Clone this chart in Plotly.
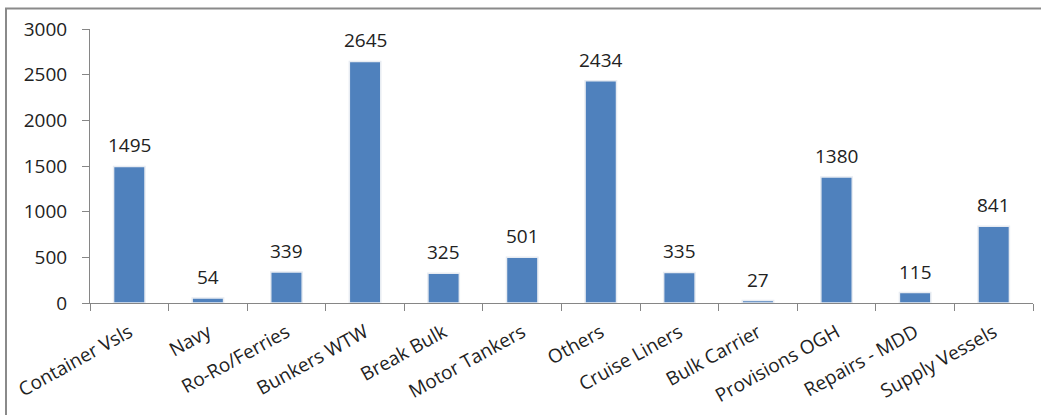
import plotly.graph_objects as go

categories = ["Container Vsls", "Navy", "Ro-Ro/Ferries", "Bunkers WTW", "Break Bulk",
              "Motor Tankers", "Others", "Cruise Liners", "Bulk Carrier", "Provisions OGH",
              "Repairs - MDD", "Supply Vessels"]
values = [1495, 54, 339, 2645, 325, 501, 2434, 335, 27, 1380, 115, 841]
y_ticks = [0, 500, 1000, 1500, 2000, 2500, 3000]

W, H = 1041, 415
L, R, T, B = 90, 8, 29, 112
pw, ph = W - L - R, H - T - B

FONT = "Open Sans"
FS = 19

fig = go.Figure()
fig.add_trace(go.Bar(
    x=categories, y=values,
    marker=dict(color="#4F81BD", line=dict(color="#E8ECF2", width=1.5)),
    width=0.4,
    hoverinfo="x+y",
))

for c, v in zip(categories, values):
    fig.add_annotation(x=c, y=v, text=str(v), showarrow=False, yanchor="bottom",
                       yshift=6, font=dict(family=FONT, size=FS, color="#222222"))

def px_x(px):
    return (px - L) / pw

def px_y(py):
    return (H - B - py) / ph

fig.add_shape(type="rect", xref="paper", yref="paper",
              x0=px_x(6), x1=px_x(1100), y0=px_y(8.5), y1=px_y(460),
              line=dict(color="#8A8A8A", width=2), fillcolor="rgba(0,0,0,0)", layer="below")

fig.update_layout(
    width=W, height=H,
    margin=dict(l=L, r=R, t=T, b=B, pad=0, autoexpand=False),
    paper_bgcolor="white", plot_bgcolor="white",
    showlegend=False,
    font=dict(family=FONT, size=FS, color="#222222"),
    xaxis=dict(
        showline=True, linecolor="#868686", linewidth=1,
        ticks="outside", tickson="boundaries", ticklen=7, tickcolor="#868686",
        tickangle=-29, tickfont=dict(family=FONT, size=FS, color="#222222"),
        ticklabelstandoff=10,
        showgrid=False, zeroline=False, automargin=False,
    ),
    yaxis=dict(
        range=[0, 3000], tickvals=y_ticks,
        showline=True, linecolor="#868686", linewidth=1,
        ticks="outside", ticklen=7, tickcolor="#868686",
        tickfont=dict(family=FONT, size=FS, color="#222222"),
        ticklabelstandoff=11,
        showgrid=False, zeroline=False, automargin=False,
    ),
)

fig.write_html("out.html",
               config={"displayModeBar": False},
               post_script="document.body.style.margin='0px';document.body.style.overflow='hidden';")
